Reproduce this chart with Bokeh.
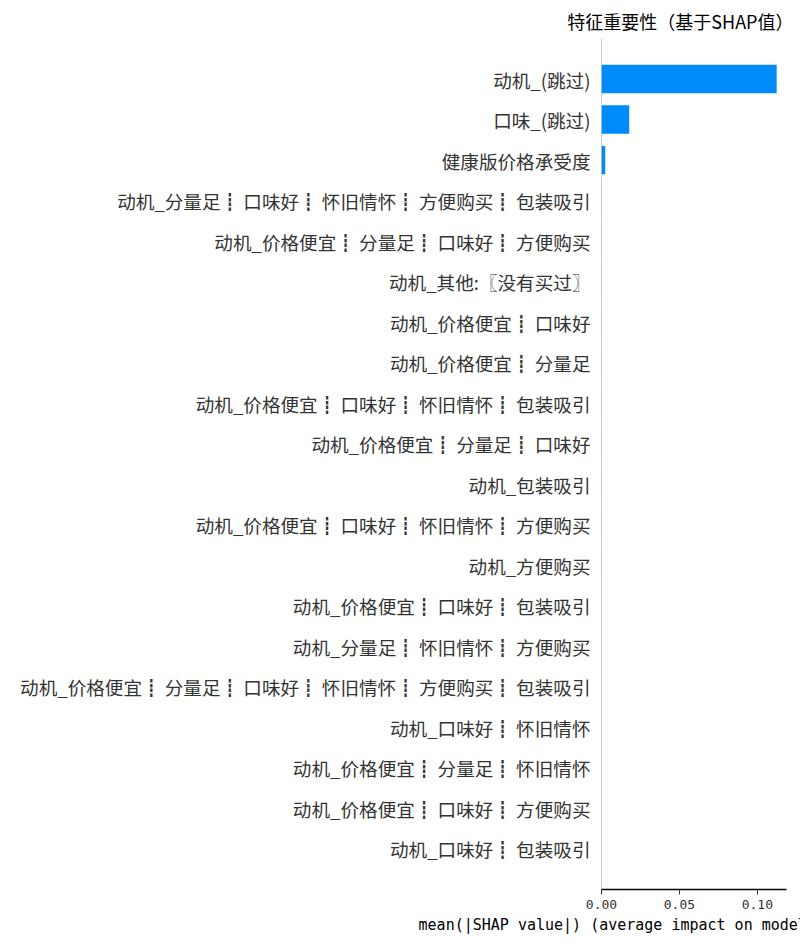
from bokeh.plotting import figure
from bokeh.models import ColumnDataSource, Range1d, FixedTicker, Span
from bokeh.embed import file_html
from bokeh.resources import INLINE

features = [
    "动机_(跳过)",
    "口味_(跳过)",
    "健康版价格承受度",
    "动机_分量足┋ 口味好┋ 怀旧情怀┋ 方便购买┋ 包装吸引",
    "动机_价格便宜┋ 分量足┋ 口味好┋ 方便购买",
    "动机_其他:〖没有买过〗",
    "动机_价格便宜┋ 口味好",
    "动机_价格便宜┋ 分量足",
    "动机_价格便宜┋ 口味好┋ 怀旧情怀┋ 包装吸引",
    "动机_价格便宜┋ 分量足┋ 口味好",
    "动机_包装吸引",
    "动机_价格便宜┋ 口味好┋ 怀旧情怀┋ 方便购买",
    "动机_方便购买",
    "动机_价格便宜┋ 口味好┋ 包装吸引",
    "动机_分量足┋ 怀旧情怀┋ 方便购买",
    "动机_价格便宜┋ 分量足┋ 口味好┋ 怀旧情怀┋ 方便购买┋ 包装吸引",
    "动机_口味好┋ 怀旧情怀",
    "动机_价格便宜┋ 分量足┋ 怀旧情怀",
    "动机_价格便宜┋ 口味好┋ 方便购买",
    "动机_口味好┋ 包装吸引",
]
mean_abs_shap = [
    0.1124, 0.0178, 0.0024, 0.00008, 0.00007, 0.00006, 0.00005, 0.00005, 0.00004, 0.00004,
    0.00003, 0.00003, 0.00003, 0.00002, 0.00002, 0.00002, 0.00001, 0.00001, 0.00001, 0.00001,
]
x_ticks = [0.0, 0.05, 0.10]
x_tick_labels = ["0.00", "0.05", "0.10"]
title_text = "特征重要性（基于SHAP值）"
x_label = "mean(|SHAP value|) (average impact on model output magnitude)"

n = len(features)
ypos = [n - 1 - i for i in range(n)]
src = ColumnDataSource(dict(y=ypos, v=mean_abs_shap, f=features))

p = figure(width=800, height=950, output_backend="svg", toolbar_location=None,
           x_range=Range1d(0, 0.1187), y_range=Range1d(-1, n),
           min_border_left=601, min_border_right=14, min_border_top=37,
           min_border_bottom=61, title=title_text)
p.hbar(y="y", left=0, right="v", height=0.7, fill_color="#008bfb", line_color=None, source=src)
p.add_layout(Span(location=0, dimension="height", line_color="#999999", line_width=1, level="underlay"))

p.outline_line_color = None
p.grid.visible = False
p.background_fill_color = "white"

p.title.text_font = "Noto Sans CJK SC"
p.title.text_font_size = "18px"
p.title.text_font_style = "normal"
p.title.text_color = "#000000"
p.title.align = "right"
p.title.offset = -7
p.title.standoff = 10

ya = p.yaxis[0]
ya.ticker = FixedTicker(ticks=ypos)
ya.major_label_overrides = {y: f for y, f in zip(ypos, features)}
ya.axis_line_color = None
ya.major_tick_line_color = None
ya.minor_tick_line_color = None
ya.major_label_standoff = 5
ya.major_label_text_font = "Noto Sans CJK SC"
ya.major_label_text_font_size = "18.6px"
ya.major_label_text_color = "#333333"

xa = p.xaxis[0]
xa.ticker = FixedTicker(ticks=x_ticks)
xa.major_label_overrides = {t: l for t, l in zip(x_ticks, x_tick_labels)}
xa.axis_line_color = "#000000"
xa.axis_line_width = 1.3
xa.major_tick_line_color = "#333333"
xa.major_tick_out = 5
xa.major_tick_in = 0
xa.minor_tick_line_color = None
xa.major_label_standoff = 5
xa.major_label_text_font = "DejaVu Sans Mono"
xa.major_label_text_font_size = "13px"
xa.major_label_text_color = "#333333"
xa.axis_label = x_label
xa.axis_label_text_font = "DejaVu Sans Mono"
xa.axis_label_text_font_size = "15px"
xa.axis_label_text_font_style = "normal"
xa.axis_label_text_color = "#000000"
xa.axis_label_standoff = 4

open("out.html", "w").write(file_html(p, INLINE))
